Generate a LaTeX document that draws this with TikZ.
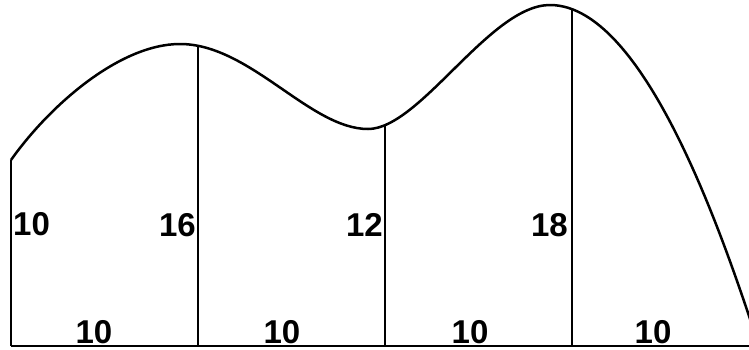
\documentclass[tikz,border=0pt]{standalone}
\usepackage{fontspec}
\setmainfont{Liberation Sans}
\begin{document}
\begin{tikzpicture}[x=1pt,y=-1pt,
  lbl/.style={font=\bfseries\fontsize{33}{33}\selectfont, inner sep=0pt},
  ln/.style={line width=2.5pt, black}]
\useasboundingbox (0,0) rectangle (749,349);
% base points
\coordinate (b0) at (11,346);
\coordinate (b1) at (198,346);
\coordinate (b2) at (385,346);
\coordinate (b3) at (572,346);
\coordinate (b4) at (749,346);
% top points
\coordinate (t0) at (11,160);
\coordinate (t1) at (198,46);
\coordinate (t2) at (385,126);
\coordinate (t3) at (572,9);
% curve key points
\coordinate (p1) at (180,44);
\coordinate (p2) at (368,129);
\coordinate (p3) at (550,5);
\coordinate (p4) at (760,349);
% baseline and ordinates
\draw[ln] (b0) -- (b4);
\draw[ln] (b0) -- (t0);
\draw[ln] (b1) -- (t1);
\draw[ln] (b2) -- (t2);
\draw[ln] (b3) -- (t3);
% curve
\begin{scope}
\clip (0,0) rectangle (749,349);
\draw[ln] (t0) .. controls (50,105) and (120,44) .. (p1)
  .. controls (250,44) and (310,129) .. (p2)
  .. controls (420,129) and (490,5) .. (p3)
  .. controls (650,5) and (732,265) .. (p4);
\end{scope}
% labels
\node[lbl, anchor=base west] (h0) at (13,235) {10};
\node[lbl, anchor=base east] (h1) at (196,236) {16};
\node[lbl, anchor=base east] (h2) at (383,236) {12};
\node[lbl, anchor=base east] (h3) at (568,236) {18};
\node[lbl, anchor=base] (w1) at (94,343) {10};
\node[lbl, anchor=base] (w2) at (282,343) {10};
\node[lbl, anchor=base] (w3) at (470,343) {10};
\node[lbl, anchor=base] (w4) at (653,343) {10};
\end{tikzpicture}
\end{document}
